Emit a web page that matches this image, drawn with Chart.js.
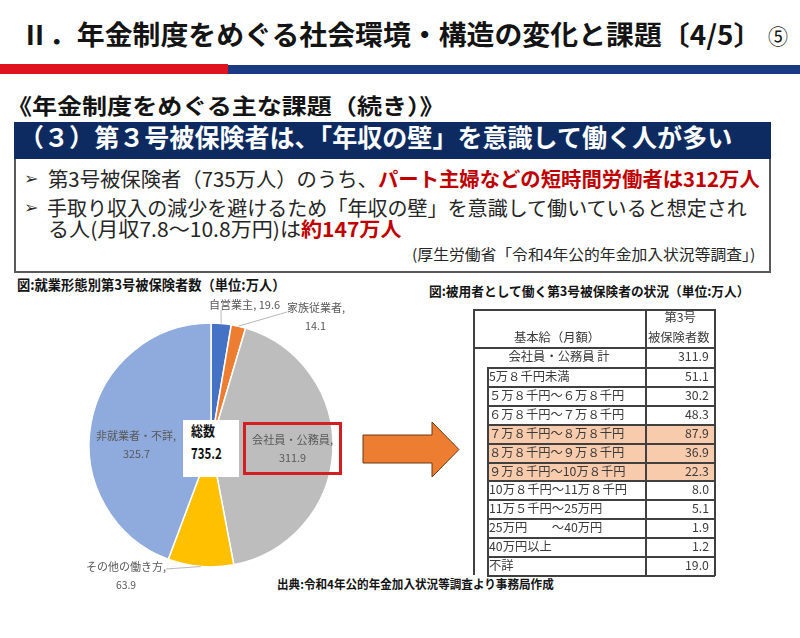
<!DOCTYPE html>
<html lang="ja">
<head>
<meta charset="utf-8">
<script src="https://cdn.jsdelivr.net/npm/chart.js@4.4.1/dist/chart.umd.min.js"></script>
<style>
  html, body { margin:0; padding:0; background:#fff; }
  #page { position:relative; width:800px; height:638px; overflow:hidden; background:#fff;
          font-family:"Noto Sans CJK JP","Noto Sans",sans-serif; color:#262626; }
  .t { position:absolute; white-space:nowrap; line-height:1; transform-origin:left center; }
  .b { font-weight:700; }
  .red { color:#C00000; font-weight:700; }
  .abs { position:absolute; }
  .arrowhead { font-family:'DejaVu Sans'; font-weight:700; color:#2b2b2b; font-size:16px; }
  #pie { position:absolute; left:0; top:295px; }
  .cell { position:absolute; white-space:nowrap; line-height:1; color:#3a3a3a; font-size:12.3px; }
</style>
</head>
<body>
<div id="page">
  <!-- title -->
  <div class="t b" data-x0="28" data-x1="743" data-cy="35" style="font-size:27px;color:#141414;">Ⅱ．年金制度をめぐる社会環境・構造の変化と課題〔4/5〕</div>
  <div class="t" data-x0="768" data-x1="788" data-cy="37" style="font-size:21px;color:#141414;">⑤</div>
  <div class="abs" style="left:0;top:64px;width:228px;height:10px;background:#E0121E;"></div>
  <div class="abs" style="left:228px;top:65px;width:572px;height:9px;background:#1B3A84;"></div>

  <!-- heading -->
  <div class="t b" data-x0="20" data-x1="433" data-cy="105" style="font-size:22px;color:#141414;">《年金制度をめぐる主な課題（続き）》</div>
  <div class="abs" style="left:14px;top:122px;width:757px;height:37px;background:#0D2B61;"></div>
  <div class="t b" data-x0="35" data-x1="732" data-cy="138" style="font-size:25px;color:#fff;">（３）第３号被保険者は、「年収の壁」を意識して働く人が多い</div>
  <div class="abs" style="left:14px;top:159px;width:753px;height:112px;border:2px solid #5a5a5a;border-top:none;"></div>

  <!-- bullets -->
  <div class="t arrowhead" data-x0="25" data-x1="38" data-cy="180">➢</div>
  <div class="t" data-x0="48" data-x1="760" data-cy="180" style="font-size:20px;">第3号被保険者（735万人）のうち、<span class="red">パート主婦などの短時間労働者は312万人</span></div>
  <div class="t arrowhead" data-x0="25" data-x1="38" data-cy="209">➢</div>
  <div class="t" data-x0="48" data-x1="748" data-cy="209" style="font-size:20px;">手取り収入の減少を避けるため「年収の壁」を意識して働いていると想定され</div>
  <div class="t" data-x0="48" data-x1="402" data-cy="230" style="font-size:20px;">る人(月収7.8〜10.8万円)は<span class="red">約147万人</span></div>
  <div class="t" data-x0="413" data-x1="762" data-cy="254" style="font-size:15px;">(厚生労働省「令和4年公的年金加入状況等調査」)</div>

  <!-- captions -->
  <div class="t b" data-x0="18" data-x1="277" data-cy="285" style="font-size:14px;color:#141414;">図:就業形態別第3号被保険者数（単位:万人）</div>
  <div class="t b" data-x0="429" data-x1="742" data-cy="291" style="font-size:13px;color:#141414;">図:被用者として働く第3号被保険者の状況（単位:万人）</div>
  <div class="t b" data-x0="278" data-x1="554" data-cy="585" style="font-size:12px;color:#141414;">出典:令和4年公的年金加入状況等調査より事務局作成</div>

  <canvas id="pie" width="400" height="305"></canvas>

  <!-- center total box and red highlight box -->
  <div class="abs" style="left:183px;top:420px;width:56px;height:57px;background:#fff;"></div>
  <div class="t b" id="totLabel" data-x0="191" data-x1="215" data-cy="431" style="font-size:14px;color:#111;"></div>
  <div class="t b" id="totValue" data-x0="191" data-x1="222" data-cy="453" style="font-size:15px;color:#111;"></div>
  <div class="abs" style="left:243px;top:422px;width:93px;height:47px;border:3px solid #D21F1F;"></div>

  <!-- arrow -->
  <svg class="abs" style="left:0;top:0;" width="800" height="638">
    <polygon points="363,435 432,435 432,422 459,449.5 432,477 432,463 363,463" fill="#ED7D31" stroke="#6b3a12" stroke-width="1"/>
  </svg>

  <div id="table"></div>
</div>

<script>
// ---------- data ----------
const categories = ['自営業主', '家族従業者', '会社員・公務員', 'その他の働き方', '非就業者・不詳'];
const values = [19.6, 14.1, 311.9, 63.9, 325.7];
const totalCaption = '総数';
const totalValue = 735.2;

const tableHeadLeft = '基本給（月額）';
const tableHeadRight = ['第3号', '被保険者数'];
const tableTotalLabel = '会社員・公務員 計';
const tableTotalValue = 311.9;
const salaryBands = ['5万８千円未満', '５万８千円～６万８千円', '６万８千円～７万８千円', '７万８千円～８万８千円',
  '８万８千円～９万８千円', '９万８千円～10万８千円', '10万８千円～11万８千円', '11万５千円～25万円',
  '25万円　　～40万円', '40万円以上', '不詳'];
const bandValues = [51.1, 30.2, 48.3, 87.9, 36.9, 22.3, 8.0, 5.1, 1.9, 1.2, 19.0];
const highlightedBands = [3, 4, 5];

// ---------- styles / layout (not data) ----------
const sliceColors = ['#4472C4', '#ED7D31', '#BDBDBD', '#FFC000', '#8FAADC'];
// label placement relative to pie centre: [x0, x1, cy] per line, optional leader start point
const labelLayout = [
  { oneLine: true, lines: [[-1, 69, -140]], leader: [10, -135] },
  { lines: [[76, 134, -137], [94, 115, -119]], leader: [76, -133] },
  { lines: [[41, 122, -5], [68, 95, 13]] },
  { lines: [[-124, -45, 122], [-95, -75, 140]], leader: [-45, 124] },
  { lines: [[-115, -35, -9], [-88, -61, 9]] }
];

const mctx = document.createElement('canvas').getContext('2d');

function fitText(el) {
  const x0 = +el.dataset.x0, x1 = +el.dataset.x1, cy = +el.dataset.cy;
  el.style.transform = 'none';
  el.style.left = x0 + 'px';
  el.style.top = cy + 'px';
  const cs = getComputedStyle(el);
  let w = el.offsetWidth, lead = 0;
  if (!el.children.length) {
    mctx.font = `${cs.fontWeight} ${cs.fontSize} ${cs.fontFamily}`;
    const m = mctx.measureText(el.textContent);
    w = m.actualBoundingBoxLeft + m.actualBoundingBoxRight;
    lead = -m.actualBoundingBoxLeft;
  }
  const s = (x1 - x0) / w;
  el.style.left = (x0 - lead * s) + 'px';
  el.style.transform = `translateY(-55%) scaleX(${s})`;
}

function drawFit(ctx, text, x0, x1, y) {
  const m = ctx.measureText(text);
  const w = m.actualBoundingBoxLeft + m.actualBoundingBoxRight;
  const s = (x1 - x0) / w;
  ctx.save();
  ctx.translate(x0 + m.actualBoundingBoxLeft * s, y);
  ctx.scale(s, 1);
  ctx.fillText(text, 0, 0);
  ctx.restore();
}

// ---------- table ----------
(function buildTable() {
  const t = document.getElementById('table');
  const L = 473, R = 714, C = 645, I = 487, top = 309, headB = 347, totB = 367, bottom = 575;
  const rowH = (bottom - totB) / salaryBands.length;
  const line = (x, y, w, h) => {
    const d = document.createElement('div');
    d.className = 'abs';
    d.style.cssText = `left:${x}px;top:${y}px;width:${w}px;height:${h}px;background:#404040;`;
    t.appendChild(d);
  };
  const text = (str, x, y, align) => {
    const d = document.createElement('div');
    d.className = 'cell';
    d.textContent = str;
    t.appendChild(d);
    const w = d.offsetWidth;
    const left = align === 'center' ? x - w / 2 : align === 'right' ? x - w : x;
    d.style.left = left + 'px';
    d.style.top = y + 'px';
    d.style.transform = 'translateY(-55%)';
  };
  highlightedBands.forEach(i => {
    const d = document.createElement('div');
    d.className = 'abs';
    d.style.cssText = `left:${I}px;top:${totB + i * rowH}px;width:${R - I}px;height:${rowH}px;background:#F8CBAD;`;
    t.appendChild(d);
  });
  line(L, top, R - L + 1, 1.5);
  line(L, headB, R - L + 1, 1.5);
  line(L, top, 1.5, bottom - top);
  line(R, top, 1.5, bottom - top + 1);
  line(C, top, 1.5, bottom - top + 1);
  line(I, totB, 1.5, bottom - totB);
  for (let i = 0; i <= salaryBands.length; i++) line(I, Math.round(totB + i * rowH), R - I + 1, 1.5);
  text(tableHeadRight[0], 680, 318, 'center');
  text(tableHeadRight[1], 679, 338, 'center');
  text(tableHeadLeft, 557, 338, 'center');
  text(tableTotalLabel, 559, 357, 'center');
  text(tableTotalValue.toFixed(1), 709, 357, 'right');
  salaryBands.forEach((s, i) => {
    const cy = totB + (i + 0.5) * rowH + 0.5;
    text(s, 489, cy, 'left');
    text(bandValues[i].toFixed(1), 709, cy, 'right');
  });
})();

document.getElementById('totLabel').textContent = totalCaption;
document.getElementById('totValue').textContent = totalValue.toFixed(1);

// ---------- pie ----------
const pieLabels = {
  id: 'pieLabels',
  afterDatasetsDraw(chart) {
    const ctx = chart.ctx;
    const meta = chart.getDatasetMeta(0);
    ctx.save();
    ctx.font = '11px "Noto Sans CJK JP"';
    ctx.fillStyle = '#595959';
    ctx.textBaseline = 'middle';
    meta.data.forEach((arc, i) => {
      const lay = labelLayout[i];
      const cx = arc.x, cy = arc.y;
      const mid = (arc.startAngle + arc.endAngle) / 2;
      const r = arc.outerRadius;
      if (lay.leader) {
        ctx.beginPath();
        ctx.strokeStyle = '#A6A6A6';
        ctx.lineWidth = 0.8;
        ctx.moveTo(cx + lay.leader[0], cy + lay.leader[1]);
        ctx.lineTo(cx + Math.cos(mid) * r, cy + Math.sin(mid) * r);
        ctx.stroke();
      }
      const texts = lay.oneLine
        ? [`${categories[i]}, ${values[i].toFixed(1)}`]
        : [`${categories[i]},`, values[i].toFixed(1)];
      lay.lines.forEach((ln, j) => drawFit(ctx, texts[j], cx + ln[0], cx + ln[1], cy + ln[2]));
    });
    ctx.restore();
  }
};

new Chart(document.getElementById('pie'), {
  type: 'pie',
  data: {
    labels: categories,
    datasets: [{
      data: values,
      backgroundColor: sliceColors,
      borderColor: '#ffffff',
      borderWidth: 1.5,
      radius: 122
    }]
  },
  options: {
    responsive: false,
    animation: false,
    layout: { padding: { left: 89, right: 67, top: 28, bottom: 33 } },
    plugins: { legend: { display: false }, tooltip: { enabled: false } }
  },
  plugins: [pieLabels]
});

function fitAll() { document.querySelectorAll('.t').forEach(fitText); }
fitAll();
if (document.fonts && document.fonts.ready) document.fonts.ready.then(fitAll);
</script>
</body>
</html>
